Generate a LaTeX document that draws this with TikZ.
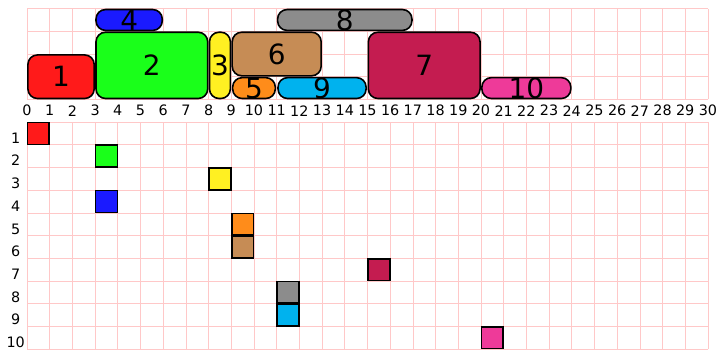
\documentclass[tikz,border=0pt]{standalone}
\usepackage{fontspec}
\setmainfont{DejaVu Sans}
\usetikzlibrary{positioning}

\definecolor{jobred}{HTML}{FF1A1A}
\definecolor{jobgreen}{HTML}{1AFF1A}
\definecolor{jobyellow}{HTML}{FFF022}
\definecolor{jobblue}{HTML}{1A1AFF}
\definecolor{joborange}{HTML}{FF8C1A}
\definecolor{jobtan}{HTML}{C68C55}
\definecolor{jobcrimson}{HTML}{C41C50}
\definecolor{jobgray}{HTML}{8C8C8C}
\definecolor{jobcyan}{HTML}{00B2EE}
\definecolor{jobpink}{HTML}{EE3A99}
\definecolor{gridpink}{HTML}{FFC8C8}

\begin{document}
\begin{tikzpicture}[x=1cm,y=1cm,
  job/.style={draw=black, line width=2pt, rounded corners=0.42cm, inner sep=0pt},
  tag/.style={font=\fontsize{35}{35}\selectfont, inner sep=0pt},
  cell/.style={draw=black, line width=2pt, minimum size=0.96cm, inner sep=0pt},
  num/.style={font=\fontsize{18}{18}\selectfont, inner sep=0pt},
  gridline/.style={draw=gridpink, line width=0.8pt}
]
\useasboundingbox (-1.19,-11) rectangle (30.4,4.38);

% grids
\draw[gridline] (0,0) grid (30,4);
\draw[gridline] (0,-1) grid (30,-11);

% axis numbers
\foreach \i in {0,...,30}
  \node[num] (x\i) at (\i,-0.5) {\i};
\foreach \r in {1,...,10}
  \node[num, anchor=base] (r\r) at (-0.5,-\r-0.93) {\r};

% jobs on the time line
\node[job, fill=jobred,     minimum width=2.92cm, minimum height=1.92cm] (j1)  at ( 1.5,1.0) {};
\node[job, fill=jobgreen,   minimum width=4.92cm, minimum height=2.92cm] (j2)  at ( 5.5,1.5) {};
\node[job, fill=jobyellow,  minimum width=0.92cm, minimum height=2.92cm] (j3)  at ( 8.5,1.5) {};
\node[job, fill=jobblue,    minimum width=2.92cm, minimum height=0.92cm] (j4)  at ( 4.5,3.5) {};
\node[job, fill=joborange,  minimum width=1.88cm, minimum height=0.92cm] (j5)  at (10.0,0.5) {};
\node[job, fill=jobtan,     minimum width=3.92cm, minimum height=1.92cm] (j6)  at (11.0,2.0) {};
\node[job, fill=jobcrimson, minimum width=4.92cm, minimum height=2.92cm] (j7)  at (17.5,1.5) {};
\node[job, fill=jobgray,    minimum width=5.92cm, minimum height=0.92cm] (j8)  at (14.0,3.5) {};
\node[job, fill=jobcyan,    minimum width=3.88cm, minimum height=0.92cm] (j9)  at (13.0,0.5) {};
\node[job, fill=jobpink,    minimum width=3.92cm, minimum height=0.92cm] (j10) at (22.0,0.5) {};

\foreach \j in {1,...,10}
  \node[tag] (t\j) at (j\j) {\j};

% start cells
\node[cell, fill=jobred]      (s1)  at ( 0.5, -1.5) {};
\node[cell, fill=jobgreen]    (s2)  at ( 3.5, -2.5) {};
\node[cell, fill=jobyellow]   (s3)  at ( 8.5, -3.5) {};
\node[cell, fill=jobblue]     (s4)  at ( 3.5, -4.5) {};
\node[cell, fill=joborange]   (s5)  at ( 9.5, -5.5) {};
\node[cell, fill=jobtan]      (s6)  at ( 9.5, -6.5) {};
\node[cell, fill=jobcrimson]  (s7)  at (15.5, -7.5) {};
\node[cell, fill=jobgray]     (s8)  at (11.5, -8.5) {};
\node[cell, fill=jobcyan]     (s9)  at (11.5, -9.5) {};
\node[cell, fill=jobpink]     (s10) at (20.5,-10.5) {};
\end{tikzpicture}
\end{document}
